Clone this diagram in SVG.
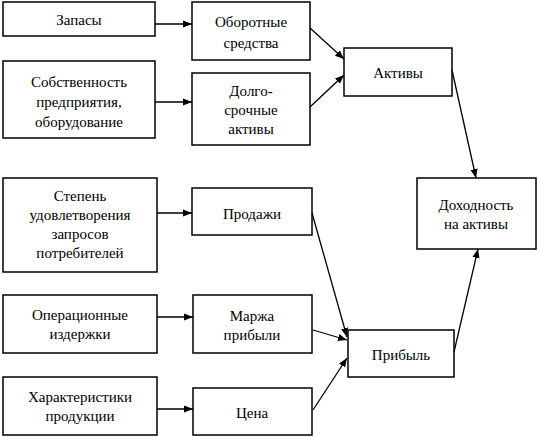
<svg xmlns="http://www.w3.org/2000/svg" width="538" height="437" viewBox="0 0 538 437" font-family="Liberation Serif, DejaVu Serif, serif" font-size="15">
<style>
rect{fill:#fff;stroke:#000;stroke-width:1.5}
text{fill:#000;text-anchor:middle}
.c line{stroke:#000;stroke-width:1.3;marker-end:url(#a)}
</style>
<defs>
<marker id="a" viewBox="0 0 10 10" refX="10" refY="5" markerWidth="9" markerHeight="9" markerUnits="userSpaceOnUse" orient="auto"><path d="M0,1 L10,5 L0,9 Z" fill="#000"/></marker>
</defs>
<rect x="0" y="0" width="538" height="437" style="fill:#fff;stroke:none"/>
<g id="n1"><rect x="3" y="2" width="152" height="34"/><text x="79" y="25">Запасы</text></g>
<g id="n2"><rect x="192" y="2" width="118" height="58"/><text x="251" y="27">Оборотные</text><text x="251" y="48">средства</text></g>
<g id="n3"><rect x="3" y="61" width="152" height="77"/><text x="79" y="87">Собственность</text><text x="79" y="107">предприятия,</text><text x="79" y="127">оборудование</text></g>
<g id="n4"><rect x="192" y="73" width="118" height="72"/><text x="251" y="96">Долго-</text><text x="251" y="115">срочные</text><text x="251" y="134">активы</text></g>
<g id="n5"><rect x="344" y="48" width="108" height="48"/><text x="398" y="78">Активы</text></g>
<g id="n6"><rect x="417" y="178" width="119" height="71"/><text x="476" y="210">Доходность</text><text x="476" y="229">на активы</text></g>
<g id="n7"><rect x="3" y="178" width="154" height="94"/><text x="80" y="201">Степень</text><text x="80" y="220">удовлетворения</text><text x="80" y="239">запросов</text><text x="80" y="258">потребителей</text></g>
<g id="n8"><rect x="192" y="188" width="120" height="47"/><text x="252" y="219">Продажи</text></g>
<g id="n9"><rect x="3" y="295" width="154" height="58"/><text x="80" y="320">Операционные</text><text x="80" y="339">издержки</text></g>
<g id="n10"><rect x="193" y="295" width="119" height="58"/><text x="252" y="321">Маржа</text><text x="252" y="340">прибыли</text></g>
<g id="n11"><rect x="3" y="377" width="154" height="58"/><text x="80" y="402">Характеристики</text><text x="80" y="421">продукции</text></g>
<g id="n12"><rect x="193" y="388" width="119" height="47"/><text x="252" y="418">Цена</text></g>
<g id="n13"><rect x="348" y="330" width="106" height="47"/><text x="401" y="360">Прибыль</text></g>
<g class="c" id="connectors">
<line x1="155" y1="24" x2="192" y2="24"/>
<line x1="155" y1="102" x2="192" y2="102"/>
<line x1="310" y1="28" x2="344" y2="59"/>
<line x1="310" y1="107" x2="344" y2="75"/>
<line x1="452" y1="70" x2="476" y2="178"/>
<line x1="157" y1="213" x2="192" y2="213"/>
<line x1="157" y1="317" x2="193" y2="317"/>
<line x1="157" y1="409" x2="193" y2="409"/>
<line x1="312" y1="213" x2="347" y2="337"/>
<line x1="313" y1="330" x2="347" y2="340"/>
<line x1="313" y1="410" x2="347" y2="358"/>
<line x1="454" y1="352" x2="478" y2="249"/>
</g>
</svg>
